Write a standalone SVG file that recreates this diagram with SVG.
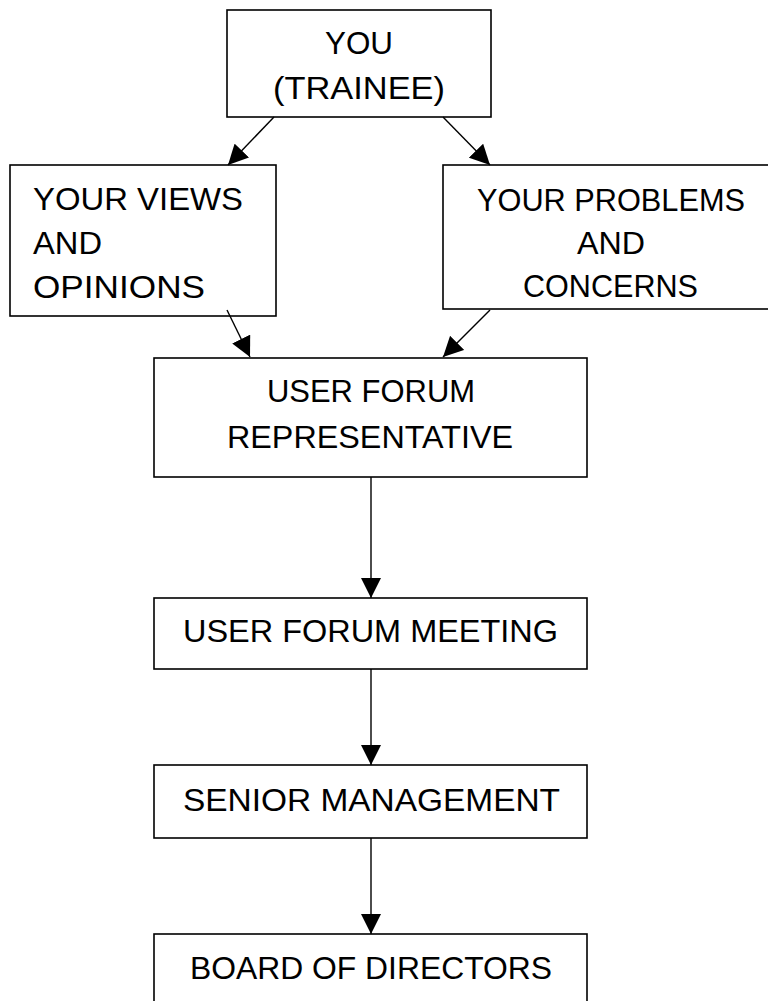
<svg xmlns="http://www.w3.org/2000/svg" width="768" height="1001" viewBox="0 0 768 1001">
<style>
.box{fill:#fff;stroke:#000;stroke-width:1.6}
.t{font-family:"Liberation Sans",Arial,sans-serif;font-size:31.5px;fill:#000}
.c{stroke:#000;stroke-width:1.4;fill:none;marker-end:url(#ah)}
</style>
<defs>
<marker id="ah" markerUnits="userSpaceOnUse" markerWidth="20" markerHeight="20" refX="20" refY="10" orient="auto">
<path d="M0,0 L20,10 L0,20 z" fill="#000"/>
</marker>
</defs>
<rect width="768" height="1001" fill="#fff"/>
<g id="you">
<rect class="box" x="227" y="10" width="264" height="107"/>
<text class="t" x="325" y="54" textLength="68" lengthAdjust="spacingAndGlyphs">YOU</text>
<text class="t" x="273" y="99" textLength="172" lengthAdjust="spacingAndGlyphs">(TRAINEE)</text>
</g>
<g id="views">
<rect class="box" x="10" y="165" width="266" height="151"/>
<text class="t" x="33" y="210" textLength="210" lengthAdjust="spacingAndGlyphs">YOUR VIEWS</text>
<text class="t" x="33" y="254" textLength="69" lengthAdjust="spacingAndGlyphs">AND</text>
<text class="t" x="33" y="298" textLength="172" lengthAdjust="spacingAndGlyphs">OPINIONS</text>
</g>
<g id="problems">
<rect class="box" x="443" y="165" width="340" height="144"/>
<text class="t" x="477" y="211" textLength="268" lengthAdjust="spacingAndGlyphs">YOUR PROBLEMS</text>
<text class="t" x="577" y="254" textLength="68" lengthAdjust="spacingAndGlyphs">AND</text>
<text class="t" x="523" y="297" textLength="175" lengthAdjust="spacingAndGlyphs">CONCERNS</text>
</g>
<g id="rep">
<rect class="box" x="154" y="358" width="433" height="119"/>
<text class="t" x="267" y="402" textLength="208" lengthAdjust="spacingAndGlyphs">USER FORUM</text>
<text class="t" x="227" y="448" textLength="286" lengthAdjust="spacingAndGlyphs">REPRESENTATIVE</text>
</g>
<g id="meeting">
<rect class="box" x="154" y="598" width="433" height="71"/>
<text class="t" x="183" y="642" textLength="375" lengthAdjust="spacingAndGlyphs">USER FORUM MEETING</text>
</g>
<g id="senior">
<rect class="box" x="154" y="765" width="433" height="73"/>
<text class="t" x="183" y="811" textLength="377" lengthAdjust="spacingAndGlyphs">SENIOR MANAGEMENT</text>
</g>
<g id="board">
<rect class="box" x="154" y="934" width="433" height="90"/>
<text class="t" x="190" y="979" textLength="362" lengthAdjust="spacingAndGlyphs">BOARD OF DIRECTORS</text>
</g>
<g id="connectors">
<line class="c" x1="274" y1="117" x2="228" y2="165"/>
<line class="c" x1="443" y1="117" x2="490" y2="165"/>
<line class="c" x1="227" y1="310" x2="250" y2="357"/>
<line class="c" x1="490" y1="310" x2="443" y2="357"/>
<line class="c" x1="371" y1="477" x2="371" y2="598"/>
<line class="c" x1="371" y1="669" x2="371" y2="765"/>
<line class="c" x1="371" y1="838" x2="371" y2="934"/>
</g>
</svg>
